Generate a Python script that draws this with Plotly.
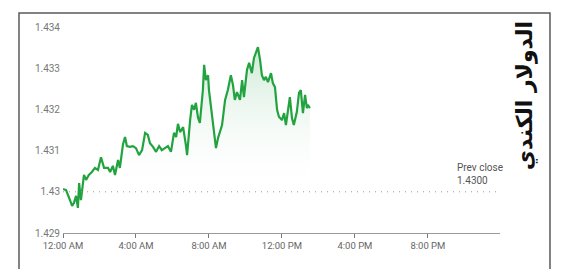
import plotly.graph_objects as go

# ---- data ----
times = ["00:00","00:10","00:23","00:30","00:36","00:43","00:49","00:53","00:59","01:09",
         "01:16","01:25","01:35","01:45","01:55","02:05","02:15","02:28","02:35","02:44",
         "02:51","03:01","03:07","03:17","03:24","03:30","03:40","03:50","04:00","04:10",
         "04:20","04:30","04:39","04:46","04:56","05:06","05:16","05:25","05:35","05:45",
         "05:55","06:05","06:12","06:18","06:25","06:35","06:44","06:48","06:58","07:04",
         "07:11","07:17","07:24","07:30","07:40","07:44","07:50","07:57","08:00","08:07",
         "08:13","08:23","08:30","08:43","08:53","09:02","09:12","09:19","09:25","09:32",
         "09:42","09:49","09:55","10:05","10:12","10:21","10:28","10:35","10:41","10:48",
         "10:54","11:01","11:07","11:14","11:24","11:30","11:37","11:44","11:50","12:00",
         "12:07","12:13","12:20","12:26","12:33","12:39","12:49","12:56","13:02","13:09",
         "13:16","13:22","13:25","13:32"]
prices = [1.43007,1.43004,1.42980,1.42966,1.42973,1.42990,1.42961,1.43021,1.42980,1.43041,
          1.43029,1.43041,1.43048,1.43058,1.43053,1.43084,1.43058,1.43058,1.43048,1.43063,
          1.43041,1.43077,1.43058,1.43114,1.43133,1.43111,1.43109,1.43111,1.43106,1.43089,
          1.43101,1.43143,1.43138,1.43118,1.43109,1.43097,1.43111,1.43101,1.43106,1.43111,
          1.43097,1.43143,1.43133,1.43165,1.43145,1.43157,1.43114,1.43089,1.43174,1.43211,
          1.43199,1.43216,1.43180,1.43167,1.43247,1.43308,1.43271,1.43283,1.43247,1.43199,
          1.43162,1.43106,1.43131,1.43162,1.43223,1.43247,1.43283,1.43259,1.43223,1.43242,
          1.43223,1.43271,1.43230,1.43296,1.43313,1.43288,1.43325,1.43339,1.43351,1.43320,
          1.43283,1.43271,1.43279,1.43266,1.43288,1.43264,1.43254,1.43199,1.43182,1.43174,
          1.43191,1.43162,1.43203,1.43230,1.43179,1.43162,1.43194,1.43240,1.43247,1.43191,
          1.43235,1.43203,1.43211,1.43203]
prev_close = 1.4300
y_ticks = [1.429, 1.430, 1.431, 1.432, 1.433, 1.434]
y_tick_text = ["1.429", "1.43", "1.431", "1.432", "1.433", "1.434"]
x_ticks = ["00:00", "04:00", "08:00", "12:00", "16:00", "20:00"]
x_tick_text = ["12:00 AM", "4:00 AM", "8:00 AM", "12:00 PM", "4:00 PM", "8:00 PM"]
title_text = "الدولار الكندي"

day = "2024-01-01 "
xs = [day + t for t in times]

fig = go.Figure()
fig.add_trace(go.Scatter(
    x=xs, y=prices, mode="lines",
    line=dict(color="#22a33f", width=2.2),
    fill="tozeroy",
    fillgradient=dict(type="vertical", start=1.4299, stop=1.4336,
                      colorscale=[[0, "rgba(255,255,255,0)"],
                                  [1, "rgba(140,205,160,0.45)"]]),
    hoverinfo="skip", showlegend=False,
))

fig.add_shape(type="line", xref="paper", x0=0, x1=1, yref="y",
              y0=prev_close, y1=prev_close,
              line=dict(color="#9a9a9a", width=1, dash="1px,5px"))

# outer frame
fig.add_shape(type="rect", xref="paper", yref="paper",
              x0=-0.1007, x1=1.1144, y0=-0.30, y1=1.068,
              line=dict(color="#5a5a5a", width=1.5))

fig.add_annotation(xref="paper", yref="y", x=0.897, y=prev_close,
                   xanchor="left", yanchor="bottom", yshift=4, align="left",
                   text="Prev close<br>%.4f" % prev_close, showarrow=False,
                   font=dict(family="Roboto", size=10, color="#555555"))

fig.add_annotation(xref="paper", yref="paper", x=1.092, y=0.665,
                   text="<b>%s</b>" % title_text, textangle=-90, showarrow=False,
                   font=dict(family="DejaVu Sans", size=22, color="#111111"))

fig.update_layout(
    width=560, height=261,
    margin=dict(l=55, r=68, t=19, b=36),
    paper_bgcolor="white", plot_bgcolor="white",
    xaxis=dict(type="date", range=[day + "00:00", day + "23:57"],
               tickvals=[day + t for t in x_ticks], ticktext=x_tick_text,
               showgrid=False, zeroline=False,
               showline=True, linecolor="#9a9a9a", linewidth=1,
               ticks="outside", ticklen=4, tickcolor="#777777",
               tickfont=dict(family="Roboto", size=9.5, color="#666666")),
    yaxis=dict(range=[1.429, 1.434], tickvals=y_ticks, ticktext=y_tick_text,
               showgrid=False, zeroline=False, showline=False, ticks="",
               ticklabelstandoff=2,
               tickfont=dict(family="Roboto", size=10, color="#777777")),
)

fig.write_html("out.html")
